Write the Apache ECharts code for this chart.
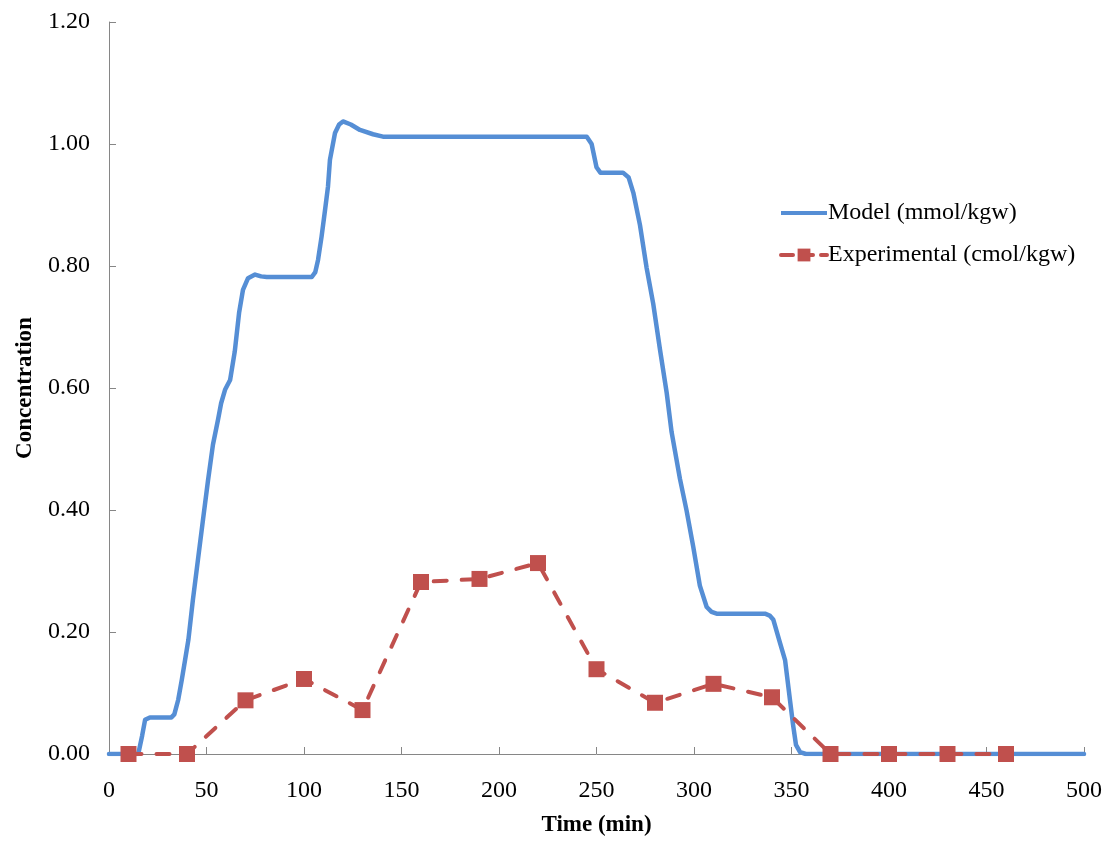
<!DOCTYPE html>
<html>
<head>
<meta charset="utf-8">
<script src="https://cdn.jsdelivr.net/npm/echarts@6/dist/echarts.min.js"></script>
<style>
html,body{margin:0;padding:0;background:#fff;}
#chart{width:1110px;height:845px;}
</style>
</head>
<body>
<div id="chart"></div>
<script>
const seriesNames = ['Model (mmol/kgw)', 'Experimental (cmol/kgw)'];
const modelTime = [0, 15, 17, 18.5, 21, 32, 33.5, 35.5, 37.3, 39, 40.7, 43, 45.6, 48.2, 50.8, 53.3, 55.9, 57.5, 59.5, 62.1, 64.5, 66.7, 68.7, 71.3, 74.9, 78, 80.9, 104, 105.8, 107.2, 109, 110.8, 112.3, 113.3, 115.9, 118, 120, 124, 128.7, 135.4, 140.5, 245, 247.5, 250, 252, 263.6, 266.5, 268.9, 272.3, 275.7, 279.1, 282.6, 286, 288.5, 292.8, 296.2, 299.6, 303, 306.5, 309, 311.6, 336.4, 338.8, 340.7, 344.1, 346.7, 349.2, 350.8, 352.3, 354.4, 357.4, 500];
const modelValue = [0, 0, 0.03, 0.056, 0.06, 0.06, 0.065, 0.089, 0.121, 0.154, 0.187, 0.252, 0.318, 0.384, 0.449, 0.507, 0.548, 0.575, 0.597, 0.613, 0.66, 0.723, 0.761, 0.78, 0.786, 0.783, 0.782, 0.782, 0.79, 0.81, 0.848, 0.892, 0.93, 0.974, 1.018, 1.032, 1.037, 1.032, 1.023, 1.016, 1.012, 1.012, 1.0, 0.962, 0.953, 0.953, 0.945, 0.92, 0.867, 0.797, 0.738, 0.662, 0.592, 0.528, 0.451, 0.399, 0.340, 0.276, 0.241, 0.233, 0.230, 0.230, 0.227, 0.220, 0.182, 0.154, 0.089, 0.048, 0.015, 0.003, 0, 0];
const expTime = [10, 40, 70, 100, 130, 160, 190, 220, 250, 280, 310, 340, 370, 400, 430, 460];
const expValue = [0, 0, 0.088, 0.123, 0.072, 0.282, 0.287, 0.313, 0.139, 0.084, 0.115, 0.093, 0, 0, 0, 0];

const font = 'Liberation Serif, Times New Roman, serif';
const axisColor = '#868686';
const blue = '#558ED5';
const red = '#C0504D';
const chart = echarts.init(document.getElementById('chart'));
chart.setOption({
  backgroundColor: '#ffffff',
  animation: false,
  grid: {left: 109, right: 26, top: 22, bottom: 91, containLabel: false},
  legend: {
    orient: 'vertical', left: 774, top: 196, itemWidth: 46, itemHeight: 16, itemGap: 18,
    lineStyle: {width: 4, type: [12, 8]},
    data: [
      {name: seriesNames[0], icon: 'path://M0,0H46V4H0Z', itemStyle: {color: blue}},
      {name: seriesNames[1]}
    ],
    textStyle: {fontFamily: font, fontSize: 24, color: '#000', padding: [0, 0, 0, -4]}
  },
  xAxis: {
    type: 'value', min: 0, max: 500, interval: 50,
    name: 'Time (min)', nameLocation: 'middle', nameGap: 60,
    nameTextStyle: {fontFamily: font, fontSize: 23, fontWeight: 'bold', color: '#000'},
    axisLine: {show: true, lineStyle: {color: axisColor, width: 1}},
    axisTick: {show: true, inside: true, length: 7, lineStyle: {color: axisColor}},
    axisLabel: {fontFamily: font, fontSize: 24, color: '#000', margin: 25},
    splitLine: {show: false}
  },
  yAxis: {
    type: 'value', min: 0, max: 1.2, interval: 0.2,
    name: 'Concentration', nameLocation: 'middle', nameGap: 72, nameRotate: 90,
    nameTextStyle: {fontFamily: font, fontSize: 23, fontWeight: 'bold', color: '#000'},
    axisLine: {show: true, lineStyle: {color: axisColor, width: 1}},
    axisTick: {show: true, inside: true, length: 7, lineStyle: {color: axisColor}},
    axisLabel: {fontFamily: font, fontSize: 24, color: '#000', margin: 19, formatter: v => v.toFixed(2)},
    splitLine: {show: false}
  },
  series: [
    {
      name: seriesNames[0], type: 'line', showSymbol: false, symbol: 'none',
      data: modelTime.map((t, i) => [t, modelValue[i]]),
      lineStyle: {color: blue, width: 4.5, join: 'round', cap: 'round'},
      itemStyle: {color: blue}, z: 2
    },
    {
      name: seriesNames[1], type: 'line', symbol: 'rect', symbolSize: 16,
      data: expTime.map((t, i) => [t, expValue[i]]),
      lineStyle: {color: red, width: 4, type: [13, 15], cap: 'round'},
      itemStyle: {color: red}, z: 3
    }
  ]
});
</script>
</body>
</html>
